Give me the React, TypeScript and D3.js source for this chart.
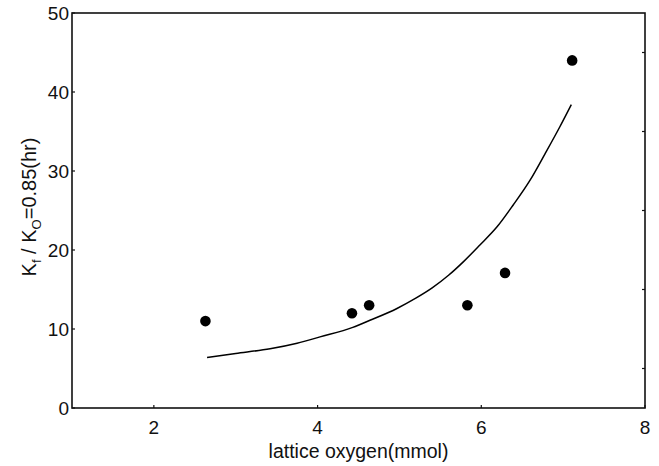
import { useEffect, useRef } from "react";
import * as d3 from "d3";

const width = 659;
const height = 466;
const margin = { top: 13, right: 14, bottom: 58, left: 72 };

// measured points
const oxygen = [2.63, 4.42, 4.63, 5.83, 6.29, 7.11];
const ratio = [11.0, 12.0, 13.0, 13.0, 17.1, 44.0];

// fitted curve
const fitX = [2.65, 3.0, 3.42, 3.75, 4.03, 4.43, 4.64, 4.97, 5.2, 5.4, 5.6, 5.78, 5.98, 6.19, 6.39, 6.6, 6.78, 6.96, 7.1];
const fitY = [6.4, 6.9, 7.5, 8.2, 9.0, 10.2, 11.1, 12.6, 13.9, 15.2, 16.8, 18.5, 20.6, 22.9, 25.7, 28.9, 32.2, 35.6, 38.4];

const xTicks = [2, 4, 6, 8];
const yTicks = [0, 10, 20, 30, 40, 50];
const rightTicks = [5, 15, 25, 35, 45];

const App = () => {
  const svgRef = useRef<SVGSVGElement | null>(null);

  useEffect(() => {
    const svg = d3.select(svgRef.current);
    svg.selectAll("*").remove();
    const font = "Arial, 'Liberation Sans', sans-serif";

    const x = d3.scaleLinear().domain([1, 8]).range([margin.left, width - margin.right]);
    const y = d3.scaleLinear().domain([0, 50]).range([height - margin.bottom, margin.top]);

    const x0 = margin.left;
    const x1 = width - margin.right;
    const y0 = height - margin.bottom;
    const y1 = margin.top;

    // frame
    svg
      .append("rect")
      .attr("x", x0)
      .attr("y", y1)
      .attr("width", x1 - x0)
      .attr("height", y0 - y1)
      .attr("fill", "none")
      .attr("stroke", "#111")
      .attr("stroke-width", 1.6);

    // bottom ticks (inward)
    const xg = svg.append("g");
    xg.selectAll("line")
      .data(xTicks)
      .join("line")
      .attr("x1", (d) => x(d))
      .attr("x2", (d) => x(d))
      .attr("y1", y0)
      .attr("y2", y0 - 3)
      .attr("stroke", "#111")
      .attr("stroke-width", 1.2);
    xg.selectAll("text")
      .data(xTicks)
      .join("text")
      .attr("x", (d) => x(d))
      .attr("y", y0 + 26)
      .attr("text-anchor", "middle")
      .attr("font-family", font)
      .attr("font-size", 19)
      .attr("fill", "#111")
      .text((d) => d);

    // left ticks
    const yg = svg.append("g");
    yg.selectAll("line")
      .data(yTicks)
      .join("line")
      .attr("x1", x0)
      .attr("x2", x0 + 3)
      .attr("y1", (d) => y(d))
      .attr("y2", (d) => y(d))
      .attr("stroke", "#111")
      .attr("stroke-width", 1.2);
    yg.selectAll("text")
      .data(yTicks)
      .join("text")
      .attr("x", x0 - 3)
      .attr("y", (d) => y(d))
      .attr("dy", "0.36em")
      .attr("text-anchor", "end")
      .attr("font-family", font)
      .attr("font-size", 19)
      .attr("fill", "#111")
      .text((d) => d);

    // right ticks (inward, no labels)
    svg
      .append("g")
      .selectAll("line")
      .data(rightTicks)
      .join("line")
      .attr("x1", x1)
      .attr("x2", x1 - 3)
      .attr("y1", (d) => y(d))
      .attr("y2", (d) => y(d))
      .attr("stroke", "#111")
      .attr("stroke-width", 1.2);

    // fitted line
    const fit = fitX.map((v, i) => [v, fitY[i]] as [number, number]);
    const myLine = d3
      .line<[number, number]>()
      .x((d) => x(d[0]))
      .y((d) => y(d[1]))
      .curve(d3.curveMonotoneX);
    svg
      .append("path")
      .datum(fit)
      .attr("d", myLine)
      .attr("fill", "none")
      .attr("stroke", "#000")
      .attr("stroke-width", 1.5);

    // points
    svg
      .append("g")
      .selectAll("circle")
      .data(oxygen)
      .join("circle")
      .attr("cx", (d) => x(d))
      .attr("cy", (d, i) => y(ratio[i]))
      .attr("r", 5.3)
      .attr("fill", "#000");

    // axis titles
    svg
      .append("text")
      .attr("x", (x0 + x1) / 2)
      .attr("y", 458)
      .attr("text-anchor", "middle")
      .attr("font-family", font)
      .attr("font-size", 19.5)
      .attr("fill", "#111")
      .text("lattice oxygen(mmol)");

    const yl = svg
      .append("text")
      .attr("transform", `translate(36,207) rotate(-90)`)
      .attr("text-anchor", "middle")
      .attr("font-family", font)
      .attr("font-size", 20)
      .attr("fill", "#111");
    yl.append("tspan").text("K");
    yl.append("tspan").attr("font-size", 13).attr("dy", 5).text("f");
    yl.append("tspan").attr("dy", -5).text(" / K");
    yl.append("tspan").attr("font-size", 13).attr("dy", 5).text("O");
    yl.append("tspan").attr("dy", -5).text("=0.85(hr)");
  }, []);

  return (
    <svg
      ref={svgRef}
      width={width}
      height={height}
      style={{ position: "absolute", left: 0, top: 0, background: "#fff" }}
    />
  );
};

export default App;
